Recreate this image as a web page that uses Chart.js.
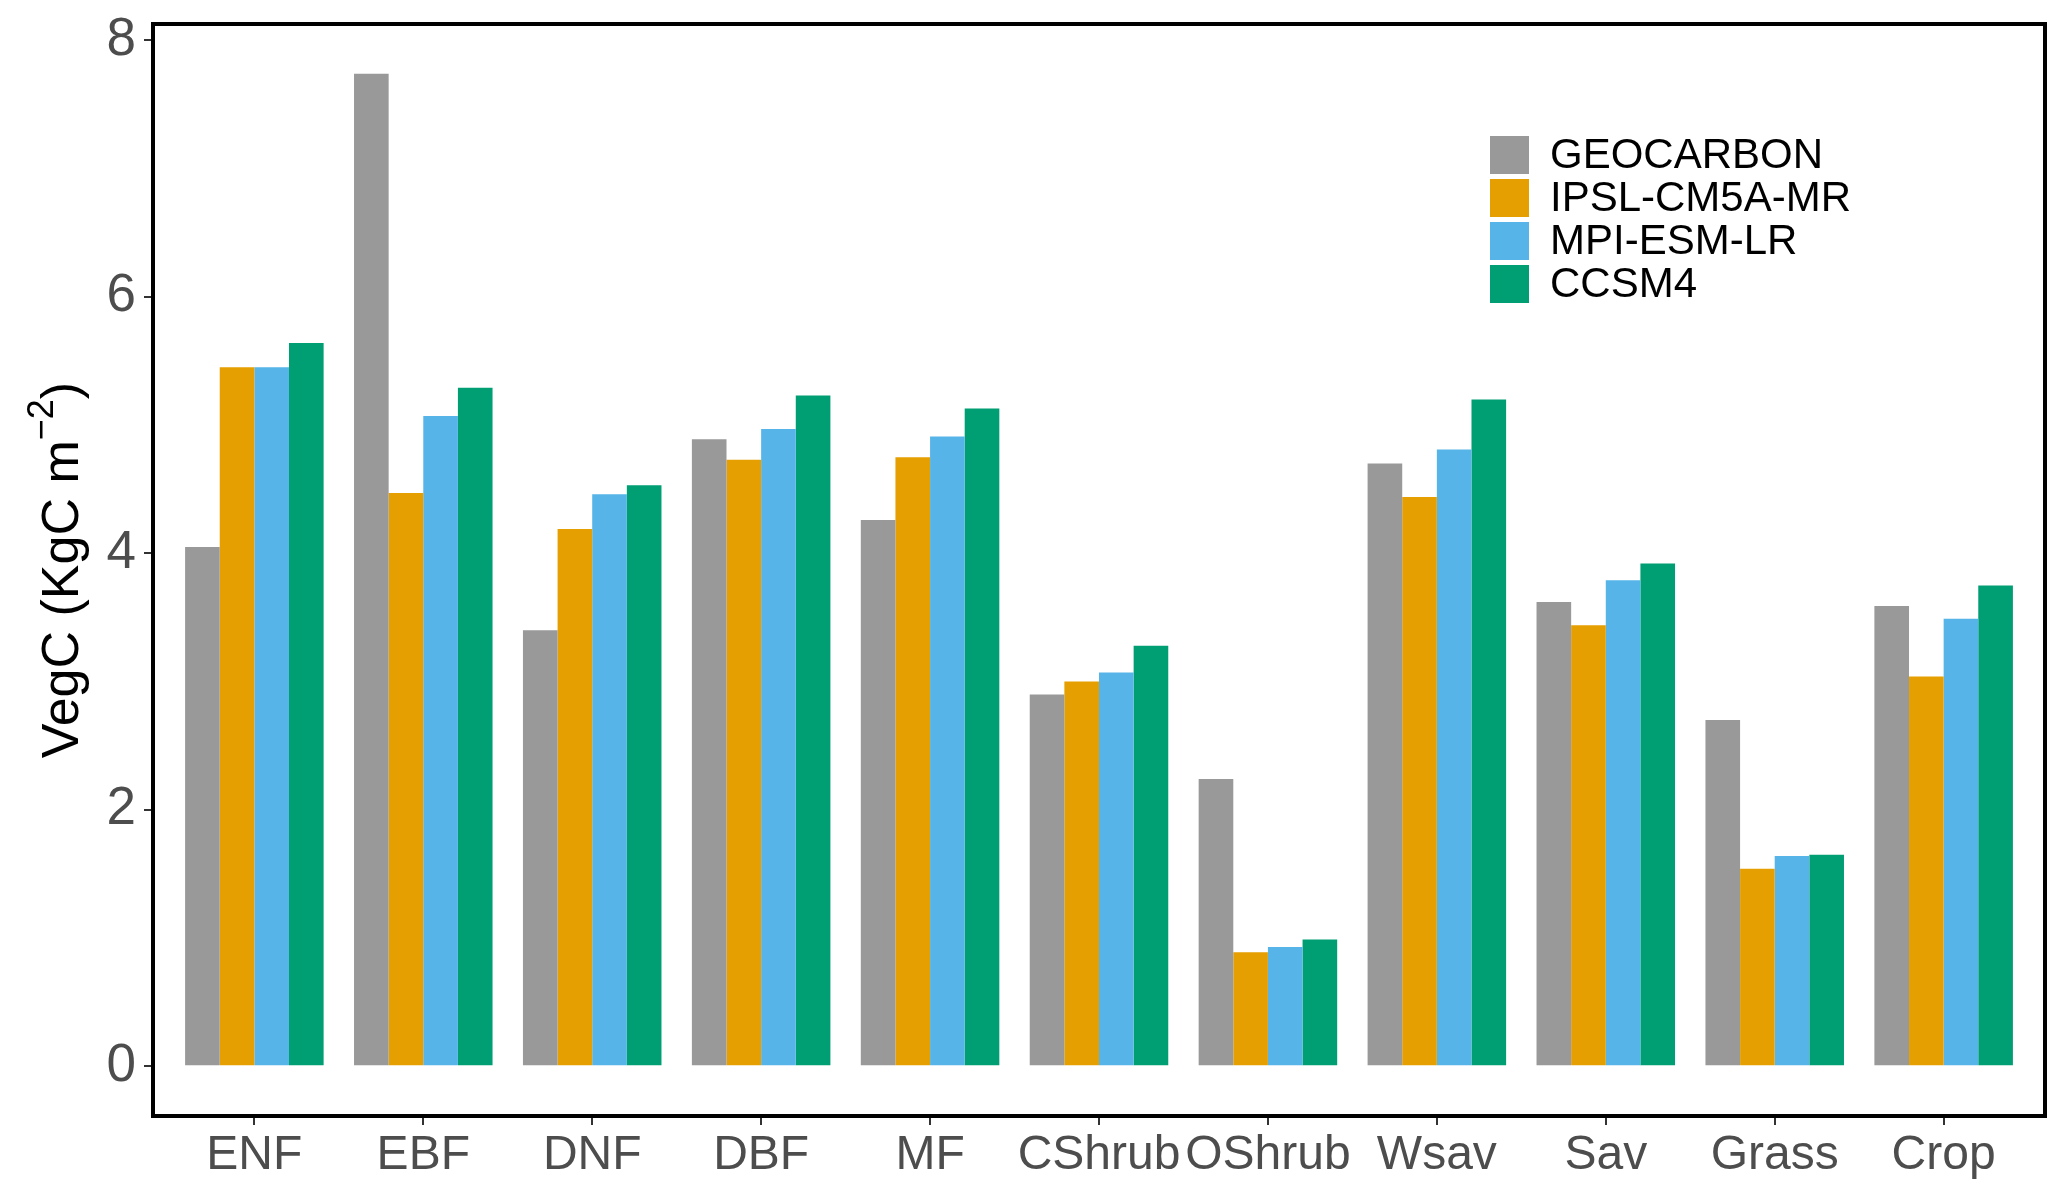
<!DOCTYPE html>
<html>
<head>
<meta charset="utf-8">
<title>VegC by biome</title>
<script src="https://cdn.jsdelivr.net/npm/chart.js@4.4.1/dist/chart.umd.min.js"></script>
<style>
  html, body { margin: 0; padding: 0; background: #fff; }
  #wrap { width: 2068px; height: 1200px; }
</style>
</head>
<body>
<div id="wrap"><canvas id="vegChart" width="2068" height="1200"></canvas></div>
<script>
// biome classes along the x axis
const biomes = ["ENF", "EBF", "DNF", "DBF", "MF", "CShrub", "OShrub", "Wsav", "Sav", "Grass", "Crop"];

// VegC (KgC m-2)
const geocarbon = [4.05, 7.74, 3.40, 4.89, 4.26, 2.90, 2.24, 4.70, 3.62, 2.70, 3.59];
const ipsl      = [5.45, 4.47, 4.19, 4.73, 4.75, 3.00, 0.89, 4.44, 3.44, 1.54, 3.04];
const mpi       = [5.45, 5.07, 4.46, 4.97, 4.91, 3.07, 0.93, 4.81, 3.79, 1.64, 3.49];
const ccsm4     = [5.64, 5.29, 4.53, 5.23, 5.13, 3.28, 0.99, 5.20, 3.92, 1.65, 3.75];

const seriesNames  = ["GEOCARBON", "IPSL-CM5A-MR", "MPI-ESM-LR", "CCSM4"];
const seriesValues = [geocarbon, ipsl, mpi, ccsm4];
const seriesColors = ["#999999", "#E69F00", "#56B4E9", "#009E73"];
const yTicks = [0, 2, 4, 6, 8];

const FONT = "'Liberation Sans', Arial, Helvetica, sans-serif";

// ── panel border, legend and y title (drawn after the bars) ──
const decorations = {
  id: "decorations",
  afterDraw(chart) {
    const { ctx, chartArea: a } = chart;
    ctx.save();

    // panel border
    ctx.strokeStyle = "#000";
    ctx.lineWidth = 4;
    ctx.strokeRect(a.left, a.top, a.right - a.left, a.bottom - a.top);

    // legend, top right inside the panel
    chart.data.datasets.forEach((ds, i) => {
      const y = 136 + i * 43;
      ctx.fillStyle = ds.backgroundColor;
      ctx.fillRect(1490, y, 39, 38);
      ctx.fillStyle = "#000";
      ctx.font = `42px ${FONT}`;
      ctx.textBaseline = "middle";
      ctx.textAlign = "left";
      ctx.fillText(ds.label, 1550, y + 20);
    });

    // y title with superscript
    const main = "VegC (KgC m", sup = "\u22122", close = ")";
    const big = `52px ${FONT}`, small = `36px ${FONT}`;
    ctx.font = big;
    const w1 = ctx.measureText(main).width, w3 = ctx.measureText(close).width;
    ctx.font = small;
    const w2 = ctx.measureText(sup).width;
    const total = w1 + w2 + w3;

    ctx.translate(59, (a.top + a.bottom) / 2);
    ctx.rotate(-Math.PI / 2);
    ctx.fillStyle = "#000";
    ctx.textAlign = "left";
    ctx.textBaseline = "alphabetic";
    let x = -total / 2;
    ctx.font = big;
    ctx.fillText(main, x, 19);
    x += w1;
    ctx.font = small;
    ctx.fillText(sup, x, -6);
    x += w2;
    ctx.font = big;
    ctx.fillText(close, x, 19);

    ctx.restore();
  }
};

const datasets = seriesNames.map((name, s) => ({
  label: name,
  data: seriesValues[s].map((v, i) => ({ x: i + 1, y: v })),
  backgroundColor: seriesColors[s],
  borderWidth: 0,
  categoryPercentage: 0.82,
  barPercentage: 1.0
}));

new Chart(document.getElementById("vegChart"), {
  type: "bar",
  data: { datasets },
  options: {
    responsive: false,
    animation: false,
    devicePixelRatio: 1,
    layout: { padding: { top: 24, right: 23, bottom: 0, left: 0 } },
    plugins: {
      legend: { display: false },
      tooltip: { enabled: false }
    },
    scales: {
      x: {
        type: "linear",
        offset: false,
        min: 0.4,
        max: 11.6,
        afterBuildTicks: axis => { axis.ticks = biomes.map((_, i) => ({ value: i + 1 })); },
        afterFit: axis => {
          axis.height = 84;
          axis.paddingLeft = 0;
          axis.paddingRight = 0;
        },
        ticks: {
          autoSkip: false,
          maxRotation: 0,
          padding: 2,
          color: "#4D4D4D",
          font: { family: FONT, size: 48 },
          callback: (v, i) => biomes[i]
        },
        grid: { offset: false, drawOnChartArea: false, tickLength: 9, color: "#333333", lineWidth: 2 },
        border: { display: false }
      },
      y: {
        min: -0.387,
        max: 8.127,
        afterBuildTicks: axis => { axis.ticks = yTicks.map(v => ({ value: v })); },
        afterFit: axis => {
          axis.width = 153;
          axis.paddingTop = 0;
          axis.paddingBottom = 0;
        },
        ticks: {
          padding: 8,
          color: "#4D4D4D",
          font: { family: FONT, size: 53 }
        },
        grid: { drawOnChartArea: false, tickLength: 9, color: "#333333", lineWidth: 2 },
        border: { display: false }
      }
    }
  },
  plugins: [decorations]
});
</script>
</body>
</html>
